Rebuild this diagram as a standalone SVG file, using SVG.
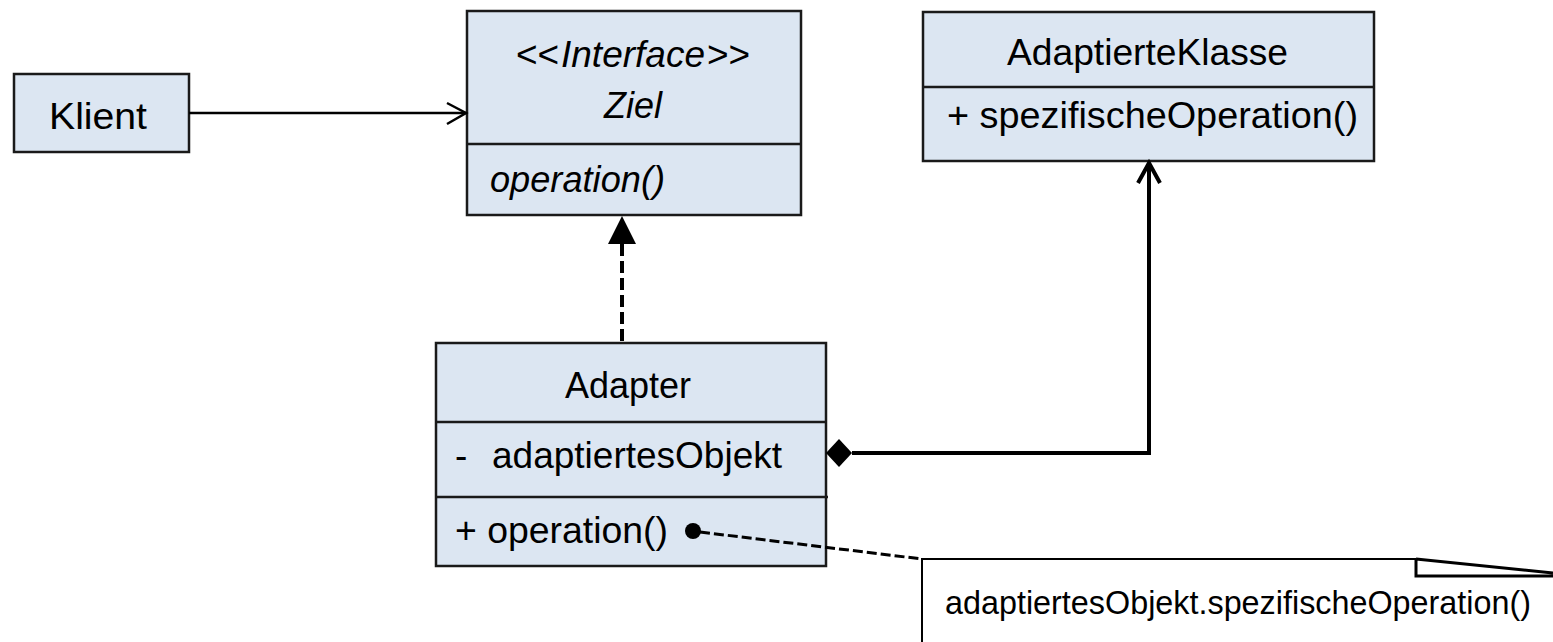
<svg xmlns="http://www.w3.org/2000/svg" width="1553" height="642" viewBox="0 0 1553 642">
<style>
.box{fill:#dce6f2;stroke:#1a1a1a;stroke-width:2.5}
.div{stroke:#1a1a1a;stroke-width:2.5}
.t{font-family:"Liberation Sans",Arial,sans-serif;font-size:37px;fill:#000}
.i{font-style:italic}
.n{font-family:"Liberation Sans",Arial,sans-serif;font-size:32.5px;fill:#000}
.ln{fill:none;stroke:#000}
</style>
<rect width="1553" height="642" fill="#fff"/>
<g id="klient">
<rect class="box" x="14" y="74" width="175" height="78"/>
<text class="t" x="49" y="129" textLength="98" lengthAdjust="spacingAndGlyphs">Klient</text>
</g>
<g id="ziel">
<rect class="box" x="467" y="11" width="334" height="204"/>
<line class="div" x1="467" y1="144" x2="801" y2="144"/>
<text class="t" x="516" y="67">&lt;&lt;</text>
<text class="t i" x="561" y="67">Interface</text>
<text class="t" x="707" y="67">&gt;&gt;</text>
<text class="t i" x="604" y="118" textLength="58" lengthAdjust="spacingAndGlyphs">Ziel</text>
<text class="t i" x="490" y="192" textLength="175" lengthAdjust="spacingAndGlyphs">operation()</text>
</g>
<g id="adaptierteKlasse">
<rect class="box" x="923" y="12" width="451" height="149"/>
<line class="div" x1="923" y1="87" x2="1374" y2="87"/>
<text class="t" x="1007" y="65" textLength="281" lengthAdjust="spacingAndGlyphs">AdaptierteKlasse</text>
<text class="t" x="947" y="128" textLength="411" lengthAdjust="spacingAndGlyphs">+ spezifischeOperation()</text>
</g>
<g id="adapter">
<rect class="box" x="436" y="343" width="390" height="223"/>
<line class="div" x1="436" y1="422" x2="826" y2="422"/>
<line class="div" x1="436" y1="497" x2="828" y2="497"/>
<text class="t" x="565" y="398" textLength="126" lengthAdjust="spacingAndGlyphs">Adapter</text>
<text class="t" x="455" y="468">-</text>
<text class="t" x="492" y="468" textLength="290" lengthAdjust="spacingAndGlyphs">adaptiertesObjekt</text>
<text class="t" x="455" y="543" textLength="213" lengthAdjust="spacingAndGlyphs">+ operation()</text>
</g>
<g id="note">
<path class="ln" stroke-width="2" d="M922,642 V559 H1416"/>
<path class="ln" stroke-width="3" d="M1416,559 L1553,573 M1416,559 V576 H1553"/>
<text class="n" x="945" y="614" textLength="586" lengthAdjust="spacingAndGlyphs">adaptiertesObjekt.spezifischeOperation()</text>
</g>
<g id="connectors">
<line class="ln" stroke-width="2.5" x1="189" y1="113" x2="466" y2="113"/>
<path class="ln" stroke-width="2.5" d="M447,103 L466,113 L447,124"/>
<line class="ln" stroke-width="4" stroke-dasharray="12,5" x1="622" y1="341" x2="622" y2="243"/>
<polygon points="622,216 636,244 608,244" fill="#000"/>
<path class="ln" stroke-width="4" d="M852,453 H1149 V163"/>
<path class="ln" stroke-width="4" d="M1138,183 L1149,163 L1160,183"/>
<polygon points="826,453 839,439 852,453 839,467" fill="#000"/>
<circle cx="693" cy="531" r="8" fill="#000"/>
<line class="ln" stroke-width="3" stroke-dasharray="10,4" x1="700" y1="532" x2="922" y2="559"/>
</g>
</svg>
